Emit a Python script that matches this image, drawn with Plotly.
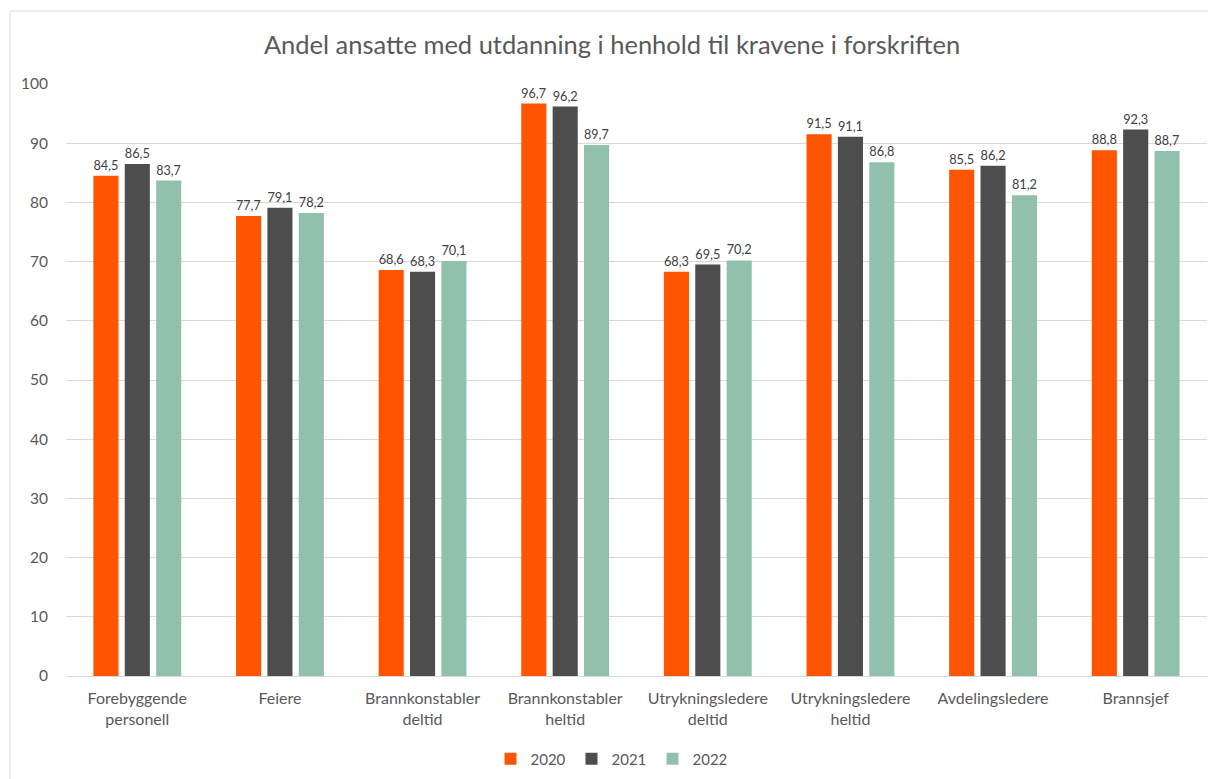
import plotly.graph_objects as go

categories = ["Forebyggende<br>personell", "Feiere", "Brannkonstabler<br>deltid",
              "Brannkonstabler<br>heltid", "Utrykningsledere<br>deltid",
              "Utrykningsledere<br>heltid", "Avdelingsledere", "Brannsjef"]
v2020 = [84.5, 77.7, 68.6, 96.7, 68.3, 91.5, 85.5, 88.8]
v2021 = [86.5, 79.1, 68.3, 96.2, 69.5, 91.1, 86.2, 92.3]
v2022 = [83.7, 78.2, 70.1, 89.7, 70.2, 86.8, 81.2, 88.7]
years = ["2020", "2021", "2022"]
colors = ["#FF5500", "#4D4D4D", "#91C1AC"]

FONT = "Lato"
# page body has an 8px margin, so the figure is 8px smaller and shifted
W, H = 1208, 771
L, R, T, B = 58, 9, 76, 103
PW, PH = W - L - R, H - T - B

fig = go.Figure()
for name, vals, col in zip(years, [v2020, v2021, v2022], colors):
    fig.add_trace(go.Bar(
        x=categories, y=vals, name=name, marker_color=col,
        marker_line_width=0,
        text=vals, texttemplate="%{y:.1f}", textposition="outside",
        textfont=dict(size=13, color="#404040", family=FONT),
        cliponaxis=False,
    ))

fig.update_layout(
    width=W, height=H,
    paper_bgcolor="white", plot_bgcolor="white",
    separators=", ",
    font=dict(family=FONT, color="#595959"),
    title=dict(text="Andel ansatte med utdanning i henhold til kravene i forskriften",
               x=0.5, xanchor="center", xref="container",
               y=1 - 37 / H, yanchor="middle", yref="container",
               font=dict(size=25.5, color="#595959", family=FONT)),
    margin=dict(l=L, r=R, t=T, b=B, autoexpand=False),
    barmode="group", bargap=0.34, bargroupgap=0.2,
    legend=dict(orientation="h", x=0.5, xanchor="center", xref="container",
                y=1 - 751 / H, yanchor="middle", yref="container",
                itemwidth=30, entrywidth=36, entrywidthmode="pixels",
                font=dict(size=15, color="#595959", family=FONT), traceorder="normal"),
    xaxis=dict(showline=True, linecolor="#D9D9D9", linewidth=1, ticks="",
               automargin=False, ticklabelstandoff=8,
               tickfont=dict(size=16, color="#595959", family=FONT)),
    yaxis=dict(range=[0, 100], dtick=10, showgrid=True, gridcolor="#D9D9D9",
               zeroline=False, showline=False, ticks="", ticklabelstandoff=17,
               automargin=False,
               tickfont=dict(size=15.5, color="#595959", family=FONT)),
    showlegend=True,
)

fig.add_shape(type="rect", xref="paper", yref="paper",
              x0=(2 - L) / PW, x1=(W + 30 - L) / PW,
              y0=(T + PH - (H + 30)) / PH, y1=(T + PH - 3) / PH,
              line=dict(color="#D9D9D9", width=1), fillcolor="rgba(0,0,0,0)", layer="below")

fig.write_html("out.html")
